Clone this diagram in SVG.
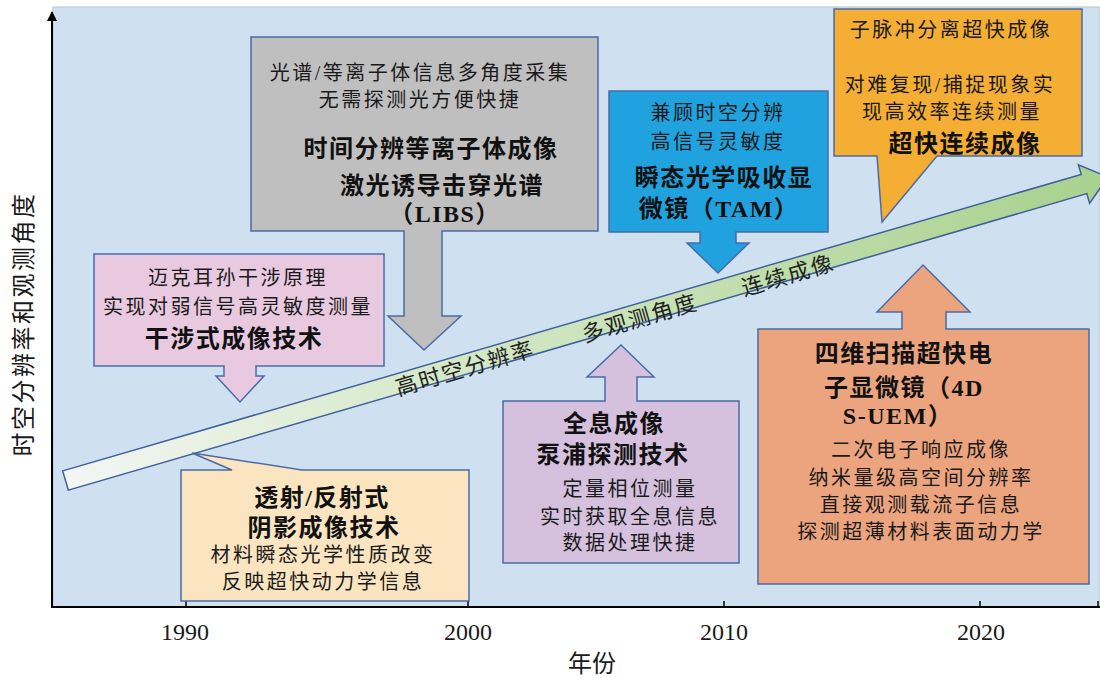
<svg xmlns="http://www.w3.org/2000/svg" width="1100" height="678" viewBox="0 0 1100 678">
<defs>
<linearGradient id="gArrow" gradientUnits="userSpaceOnUse" x1="65" y1="480" x2="1100" y2="178">
<stop offset="0" stop-color="#f3f6f3"/>
<stop offset="0.35" stop-color="#d6e9ca"/>
<stop offset="1" stop-color="#a9d18e"/>
</linearGradient>
<marker id="axHead" viewBox="0 0 10 10" refX="9" refY="5" markerWidth="5" markerHeight="5" orient="auto">
<path d="M0,0 L10,5 L0,10 Z" fill="#000"/>
</marker>
<style>
.box{stroke:#4a6ba5;stroke-width:1.5;stroke-linejoin:miter}
.t{font-family:"Liberation Serif","Noto Sans CJK SC",sans-serif;fill:#1a1a1a;text-anchor:middle}
.r{font-size:20px;letter-spacing:2.5px}
.b{font-size:24px;font-weight:bold;letter-spacing:1.5px;fill:#111}
.ax{font-family:"Liberation Serif","Noto Sans CJK SC",serif;fill:#1a1a1a;text-anchor:middle}
.at{font-family:"Liberation Serif","Noto Sans CJK SC",sans-serif;fill:#222;text-anchor:middle;font-size:22px;letter-spacing:2px}
</style>
</defs>

<rect id="panel" x="53" y="7" width="1047" height="600" fill="#cfe1f1" stroke="#b8c4cf" stroke-width="1"/>

<g id="axes">
<line x1="52" y1="608" x2="52" y2="12" stroke="#000" stroke-width="2" marker-end="url(#axHead)"/>
<line x1="51" y1="607" x2="1100" y2="607" stroke="#000" stroke-width="2"/>
<g stroke="#000" stroke-width="1.5">
<line x1="186" y1="601" x2="186" y2="607"/>
<line x1="468" y1="601" x2="468" y2="607"/>
<line x1="724" y1="601" x2="724" y2="607"/>
<line x1="980" y1="601" x2="980" y2="607"/>
<line x1="1098" y1="601" x2="1098" y2="607"/>
</g>
<text class="ax" x="185" y="640" font-size="24">1990</text>
<text class="ax" x="468" y="640" font-size="24">2000</text>
<text class="ax" x="724" y="640" font-size="24">2010</text>
<text class="ax" x="981" y="640" font-size="24">2020</text>
<text class="ax" x="592" y="672" font-size="24">年份</text>
<text class="ax" transform="translate(32,324) rotate(-90)" x="0" y="0" font-size="24" letter-spacing="2.5">时空分辨率和观测角度</text>
</g>

<g id="connectors">
<path id="trend" d="M62.7,470.9 L1081.2,174.4 L1078.4,164.8 L1108,177 L1089.6,203.2 L1086.8,193.6 L68.3,490.1 Z" fill="url(#gArrow)" stroke="#3f5f9a" stroke-width="1.5" stroke-linejoin="miter"/>
<text class="at" transform="translate(465,368) rotate(-16.3)" y="8">高时空分辨率</text>
<text class="at" transform="translate(640,318) rotate(-16.3)" y="8">多观测角度</text>
<text class="at" transform="translate(788,275) rotate(-16.3)" y="8">连续成像</text>
</g>

<g id="node-libs">
<path class="box" fill="#bfbfbf" d="M251,37 H598 V231 H442 V316 H461 L424,350 L388,316 H404 V231 H251 Z"/>
<text class="t r" x="420" y="80">光谱/等离子体信息多角度采集</text>
<text class="t r" x="420" y="107">无需探测光方便快捷</text>
<text class="t b" x="431" y="157">时间分辨等离子体成像</text>
<text class="t b" x="442" y="194">激光诱导击穿光谱</text>
<text class="t b" x="445" y="222">（LIBS）</text>
</g>

<g id="node-tam">
<path class="box" fill="#1fa2de" d="M609,91 H828 V232 H736 V243 H749 L718,273 L687,243 H700 V232 H609 Z"/>
<text class="t r" x="718" y="120">兼顾时空分辨</text>
<text class="t r" x="718" y="149">高信号灵敏度</text>
<text class="t b" x="724" y="186">瞬态光学吸收显</text>
<text class="t b" x="719" y="217">微镜（TAM）</text>
</g>

<g id="node-continuous">
<path class="box" fill="#f4ae33" d="M834,9 H1082 V156 H937 L882,222 L877,156 H834 Z"/>
<text class="t r" x="951" y="37">子脉冲分离超快成像</text>
<text class="t r" x="950" y="92">对难复现/捕捉现象实</text>
<text class="t r" x="952" y="119">现高效率连续测量</text>
<text class="t b" x="965" y="152">超快连续成像</text>
</g>

<g id="node-interference">
<path class="box" fill="#e8c9e0" d="M94,254 H384 V366 H256 V376 H264 L240,402 L216,376 H224 V366 H94 Z"/>
<text class="t r" x="238" y="285">迈克耳孙干涉原理</text>
<text class="t r" x="238" y="314">实现对弱信号高灵敏度测量</text>
<text class="t b" x="234" y="347">干涉式成像技术</text>
</g>

<g id="node-shadow">
<path class="box" fill="#fbe5c0" d="M181,470 H232 L192,453 L302,470 H469 V601 H181 Z"/>
<text class="t b" x="322" y="506">透射/反射式</text>
<text class="t b" x="324" y="536">阴影成像技术</text>
<text class="t r" x="323" y="562">材料瞬态光学性质改变</text>
<text class="t r" x="323" y="589">反映超快动力学信息</text>
</g>

<g id="node-holo">
<path class="box" fill="#d5c0de" d="M503,401 H605 V377 H587 L621,345 L654,377 H637 V401 H739 V563 H503 Z"/>
<text class="t b" x="614" y="432">全息成像</text>
<text class="t b" x="613" y="463">泵浦探测技术</text>
<text class="t r" x="630" y="496">定量相位测量</text>
<text class="t r" x="630" y="524">实时获取全息信息</text>
<text class="t r" x="630" y="550">数据处理快捷</text>
</g>

<g id="node-uem">
<path class="box" fill="#eca47e" d="M758,329 H902 V312 H877 L923,265 L970,312 H946 V329 H1089 V584 H758 Z"/>
<text class="t b" x="904" y="362">四维扫描超快电</text>
<text class="t b" x="904" y="396">子显微镜（4D</text>
<text class="t b" x="898" y="424">S-UEM）</text>
<text class="t r" x="921" y="457">二次电子响应成像</text>
<text class="t r" x="921" y="485">纳米量级高空间分辨率</text>
<text class="t r" x="921" y="512">直接观测载流子信息</text>
<text class="t r" x="921" y="539">探测超薄材料表面动力学</text>
</g>
</svg>
